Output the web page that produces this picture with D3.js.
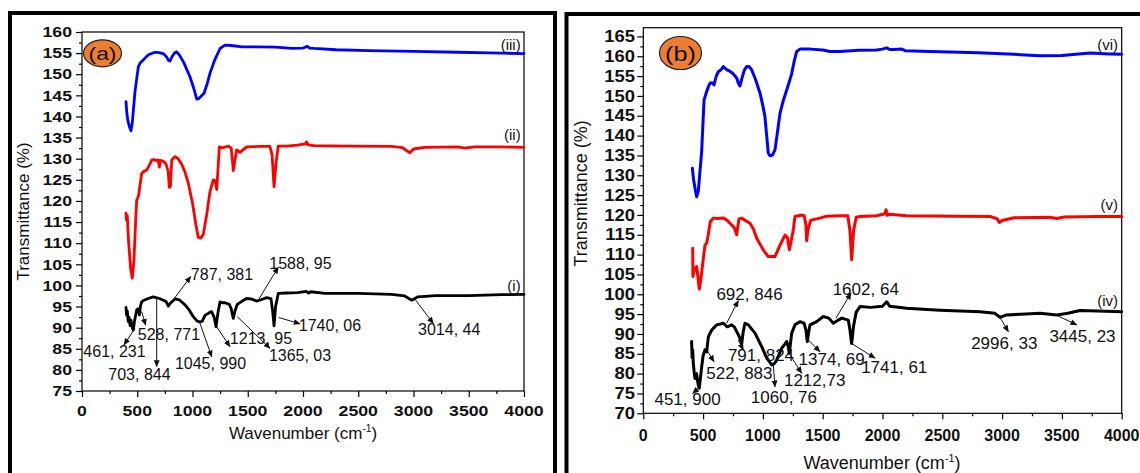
<!DOCTYPE html>
<html>
<head>
<meta charset="utf-8">
<script src="https://cdn.jsdelivr.net/npm/d3@7"></script>
<style>
  body { margin: 0; background: #fff; }
  svg { display: block; }
  text { font-family: Arial, "Liberation Sans", sans-serif; fill: #111; }
</style>
</head>
<body>
<svg id="chart" width="1140" height="473"></svg>
<script>
// ---------------- FTIR spectra: [wavenumber (cm-1), transmittance (%)] ----------------
// Panel (a)
const spectrumA3 = [[398,143.5],[405,141],[415,139],[430,137.5],[443,136.6],[455,138.5],[480,146],[510,151.8],[530,152.8],[555,153.4],[600,154.6],[660,155.2],[700,155.1],[740,154.8],[766,154.1],[782,153.3],[796,153.1],[815,154.2],[840,155.1],[857,155.3],[880,154.6],[920,152.8],[977,149.4],[1010,146.8],[1038,144.1],[1060,144.3],[1104,145.5],[1130,147.5],[1158,150.2],[1200,153.3],[1249,156.1],[1294,156.9],[1350,156.8],[1450,156.5],[1600,156.5],[1750,156.4],[1900,156.1],[2000,156.2],[2040,156.6],[2060,156.2],[2100,156.1],[2300,155.8],[2600,155.6],[3000,155.4],[3400,155.2],[3800,155.0],[4000,154.9]];
const spectrumA2 = [[398,117.1],[402,115.5],[410,116.5],[420,111],[440,104],[455,101.7],[470,106],[485,115],[495,120.2],[510,121],[540,126.5],[560,127],[585,127.3],[610,128.5],[631,129.7],[655,129.8],[676,129.5],[690,129.7],[700,128],[710,129.6],[736,129.4],[760,128.8],[780,127],[790,123.2],[800,123.4],[812,129.7],[842,130.5],[870,130],[902,128.7],[930,127],[962,124.2],[1000,119.5],[1030,114.5],[1052,111.4],[1075,111.2],[1098,112.1],[1130,117],[1158,122.2],[1188,125],[1205,124.8],[1219,122.7],[1232,128],[1243,132.8],[1270,132.6],[1325,133],[1350,132.5],[1362,129.5],[1369,127.2],[1380,129],[1400,132.1],[1430,131.5],[1490,132.8],[1600,132.9],[1700,132.9],[1720,131],[1738,123.4],[1756,129],[1776,133],[1850,133],[1950,133.2],[2020,133.5],[2033,134],[2045,133.3],[2100,133.1],[2400,133],[2800,132.9],[2900,132.6],[2968,131.4],[3000,132.3],[3100,132.7],[3400,132.8],[3466,132.5],[3550,132.8],[3800,132.8],[4000,132.7]];
const spectrumA1 = [[398,94.8],[403,93],[410,94],[418,91.5],[425,92.5],[435,90.5],[443,91.8],[455,90],[464,89.4],[475,91.5],[495,94.2],[510,94.5],[519,93],[530,95.2],[540,96.1],[560,96.5],[600,96.9],[645,97.3],[700,96.9],[736,96.5],[760,96.2],[781,95.1],[800,95.8],[842,96.8],[880,96.6],[932,95.4],[970,94.2],[1007,92.6],[1040,91.6],[1068,91.3],[1090,91.6],[1113,92.9],[1150,93.5],[1173,93.8],[1195,92.5],[1213,90.2],[1230,93.5],[1249,96.1],[1270,95.9],[1294,95.9],[1333,95.5],[1350,94.5],[1369,92.2],[1385,94],[1405,95.5],[1450,96.3],[1490,96.9],[1530,96.8],[1579,96.3],[1620,96.6],[1671,97.1],[1710,96.9],[1725,94],[1738,90.4],[1752,95],[1776,98.1],[1850,98.2],[1950,98.3],[2030,98.6],[2050,98.2],[2070,98.5],[2200,98.1],[2500,98.1],[2800,97.9],[2920,97.5],[2984,96.5],[3040,97.3],[3200,97.6],[3500,97.6],[3800,97.8],[4000,97.9]];
// Panel (b)
const spectrumB6 = [[410,131.8],[420,129],[435,126.3],[446,124.6],[460,126],[488,136],[508,149],[530,151.1],[545,152.4],[558,153.2],[575,153.3],[591,152.8],[610,155],[627,156.1],[650,156.6],[669,157.4],[697,156.6],[720,156.3],[747,155.7],[765,155.1],[781,154.5],[795,153.2],[808,152.5],[825,154.5],[845,156.5],[864,157.4],[885,157.4],[906,156.6],[940,154],[976,150.7],[1000,147.5],[1017,144.8],[1030,140.5],[1045,135.6],[1059,134.9],[1080,135.1],[1101,136.4],[1120,140.5],[1143,145.6],[1170,148.8],[1199,151.5],[1220,153.5],[1241,155.7],[1260,158.5],[1282,161.2],[1310,161.8],[1400,161.8],[1500,161.6],[1560,161.2],[1644,161.2],[1800,161.5],[1950,161.6],[2000,161.8],[2035,162.1],[2060,161.7],[2100,161.7],[2161,161.8],[2190,161.4],[2400,161.2],[2800,160.9],[3100,160.5],[3317,160.1],[3500,160.2],[3735,160.8],[3900,160.6],[4000,160.5]];
const spectrumB5 = [[413,111.6],[415,104.5],[425,106],[446,107],[458,104],[468,101.3],[480,103.5],[497,107.8],[516,112.4],[530,112.9],[540,114.5],[549,116.2],[560,118.3],[585,119.2],[620,119.1],[669,119.2],[700,118.7],[725,117.9],[760,116.8],[775,115.6],[781,115],[790,117],[800,119],[823,119.2],[860,118.5],[892,117.9],[920,116.5],[948,114.1],[1003,111.2],[1045,109.5],[1101,109.5],[1143,112.4],[1185,114.9],[1205,114.3],[1221,111.2],[1240,114],[1254,116.2],[1268,119.6],[1324,120],[1345,119.8],[1360,117.5],[1366,113.5],[1375,116],[1400,118.7],[1477,119.2],[1533,119.7],[1650,119.8],[1710,119.8],[1728,116],[1742,108.7],[1758,116],[1780,119.4],[1812,119.6],[1950,119.8],[2020,120.3],[2030,121.3],[2040,119.9],[2060,120.2],[2200,119.8],[2600,119.7],[2900,119.6],[2960,119],[2977,118.1],[3000,118.6],[3100,119.3],[3400,119.4],[3457,119.1],[3520,119.5],[3800,119.6],[4000,119.6]];
const spectrumB4 = [[404,88.1],[408,84],[413,86],[418,82.6],[425,80.5],[432,78.8],[445,80],[460,77],[468,76.3],[478,79],[488,81.7],[500,84.5],[516,86],[530,85.5],[544,89.3],[572,91],[614,92.3],[669,92.7],[702,91.8],[739,92.3],[760,91.8],[781,90.6],[800,89.5],[823,87.6],[835,90.5],[850,92.7],[878,92.3],[934,90.2],[990,86.8],[1032,83.9],[1074,82.2],[1095,82.5],[1115,83.4],[1157,86.4],[1185,87.5],[1199,88.1],[1210,87],[1221,85.1],[1232,88],[1241,90.2],[1268,92.3],[1310,93.1],[1344,92.7],[1360,91],[1371,88.1],[1383,90.5],[1394,92.3],[1450,93.1],[1505,94.4],[1550,94],[1589,92.7],[1630,93.5],[1659,94],[1714,93.5],[1728,91],[1742,87.6],[1758,92],[1780,95.5],[1812,96.9],[1900,96.7],[2000,97],[2035,98.1],[2060,97],[2202,96.5],[2481,96],[2815,95.6],[2940,95.2],[2982,94.2],[3038,94.8],[3317,95.2],[3457,94.8],[3550,95.2],[3651,95.9],[3800,95.8],[4000,95.6]];

// Series names shown at the right end of each trace
const namesA = ["(iii)", "(ii)", "(i)"];
const namesB = ["(vi)", "(v)", "(iv)"];

// Peak annotations: label, arrow start (on trace), arrow end, label centre — data units
const peaksA = [
  { label: "461, 231",  from: [480, 89.9],  to: [380, 85.9],  at: [294, 84.3] },
  { label: "528, 771",  from: [540, 93.8],  to: [576, 90.6],  at: [787, 88.5] },
  { label: "703, 844",  from: [676, 96.9],  to: [676, 80.8],  at: [520, 79.0] },
  { label: "787, 381",  from: [812, 96.1],  to: [984, 102.1], at: [1267, 102.6] },
  { label: "1045, 990", from: [1068, 91.0], to: [1174, 83.1], at: [1163, 81.6] },
  { label: "1213, 95",  from: [1219, 90.2], to: [1339, 85.5], at: [1620, 87.5] },
  { label: "1365, 03",  from: [1405, 92.6], to: [1701, 85.1], at: [1973, 83.5] },
  { label: "1588, 95",  from: [1595, 96.5], to: [1776, 104.3], at: [1977, 105.2] },
  { label: "1740, 06",  from: [1780, 92.4], to: [1973, 90.9], at: [2244, 90.6] },
  { label: "3014, 44",  from: [3014, 96.7], to: [3179, 91.0], at: [3323, 89.6] }
];
const peaksB = [
  { label: "692, 846",  from: [697, 92.7],  to: [794, 98.4],  at: [888, 100.1] },
  { label: "791, 824",  from: [794, 88.5],  to: [836, 86.0],  at: [984, 84.7] },
  { label: "522, 883",  from: [530, 86.0],  to: [591, 83.0],  at: [804, 80.1] },
  { label: "451, 900",  from: [474, 76.7],  to: [413, 75.0],  at: [370, 73.6] },
  { label: "1060, 76",  from: [1087, 82.2], to: [1101, 76.7], at: [1176, 74.0] },
  { label: "1212,73",   from: [1227, 84.7], to: [1324, 80.1], at: [1433, 78.4] },
  { label: "1374, 69",  from: [1380, 88.5], to: [1477, 85.5], at: [1575, 83.6] },
  { label: "1602, 64",  from: [1611, 94.0], to: [1737, 100.3], at: [1860, 101.3] },
  { label: "1741, 61",  from: [1742, 87.6], to: [1937, 83.9], at: [2098, 81.6] },
  { label: "2996, 33",  from: [2982, 94.2], to: [3052, 90.6], at: [3018, 87.6] },
  { label: "3445, 23",  from: [3470, 94.5], to: [3624, 92.3], at: [3672, 89.5] }
];

const xTicks = [0, 500, 1000, 1500, 2000, 2500, 3000, 3500, 4000];
const yTicksA = d3.range(75, 161, 5);
const yTicksB = d3.range(70, 166, 5);

// ---------------- layout ----------------
const svg = d3.select("#chart");
svg.append("rect").attr("width", 1140).attr("height", 473).attr("fill", "#fff");

const defs = svg.append("defs");
defs.append("marker")
  .attr("id", "arrowHead")
  .attr("viewBox", "0 0 10 10")
  .attr("refX", 9).attr("refY", 5)
  .attr("markerWidth", 7).attr("markerHeight", 7)
  .attr("markerUnits", "userSpaceOnUse")
  .attr("orient", "auto")
  .append("path").attr("d", "M0,0.8 L10,5 L0,9.2 Z").attr("fill", "#111");

const panels = [
  {
    frame: { x: 10, y: 13, w: 545, h: 480 },
    left: 82, right: 524, top: 32, bottom: 391,
    yDomain: [75, 160], yTicks: yTicksA,
    series: [spectrumA3, spectrumA2, spectrumA1], names: namesA,
    nameAt: [156.9, 135.6, 99.9],
    peaks: peaksA, peakFont: 16,
    tickFont: 15, yStretch: 1.18, xStretch: 1.18,
    yLabelX: 72, xLabelY: 416,
    badge: { cx: 102.5, cy: 53.3, rx: 19, ry: 13.5, text: "(a)", font: 19 },
    yTitle: { x: 29, y: 211.5 }, xTitle: { x: 303, y: 439 }, titleFont: 17,
    lineWidth: 2.8
  },
  {
    frame: { x: 566.5, y: 14, w: 620, h: 480 },
    left: 643.3, right: 1121.7, top: 27.7, bottom: 413.3,
    yDomain: [70, 167.2], yTicks: yTicksB,
    series: [spectrumB6, spectrumB5, spectrumB4], names: namesB,
    nameAt: [162.9, 122.5, 98.4],
    peaks: peaksB, peakFont: 17,
    tickFont: 16, yStretch: 1.15, xStretch: 1.0,
    yLabelX: 635, xLabelY: 441,
    badge: { cx: 680.5, cy: 53, rx: 21, ry: 16.5, text: "(b)", font: 21 },
    yTitle: { x: 587, y: 193.5 }, xTitle: { x: 882, y: 469 }, titleFont: 18,
    lineWidth: 3
  }
];
const colors = ["#0000ff", "#ff0000", "#000000"];

panels.forEach(p => {
  const g = svg.append("g");
  const x = d3.scaleLinear().domain([0, 4000]).range([p.left, p.right]);
  const y = d3.scaleLinear().domain(p.yDomain).range([p.bottom, p.top]);

  // outer thick frame
  g.append("rect")
    .attr("x", p.frame.x).attr("y", p.frame.y)
    .attr("width", p.frame.w).attr("height", p.frame.h)
    .attr("fill", "none").attr("stroke", "#000").attr("stroke-width", 4);

  // plot box
  g.append("rect")
    .attr("x", p.left).attr("y", p.top)
    .attr("width", p.right - p.left).attr("height", p.bottom - p.top)
    .attr("fill", "none").attr("stroke", "#000").attr("stroke-width", 1.2);

  // major and minor ticks
  const yMinor = p.yTicks.slice(0, -1).map(v => v + 2.5);
  const xMinor = xTicks.slice(0, -1).map(v => v + 250);
  const axisStyle = sel => {
    sel.select(".domain").remove();
    sel.selectAll("line").attr("stroke", "#000").attr("stroke-width", 1.2);
    sel.selectAll("text").remove();
  };
  g.append("g").attr("transform", `translate(${p.left},0)`)
    .call(d3.axisLeft(y).tickValues(p.yTicks).tickSize(6).tickSizeOuter(0)).call(axisStyle);
  g.append("g").attr("transform", `translate(${p.left},0)`)
    .call(d3.axisLeft(y).tickValues(yMinor).tickSize(3).tickSizeOuter(0)).call(axisStyle);
  g.append("g").attr("transform", `translate(0,${p.bottom})`)
    .call(d3.axisBottom(x).tickValues(xTicks).tickSize(6).tickSizeOuter(0)).call(axisStyle);
  g.append("g").attr("transform", `translate(0,${p.bottom})`)
    .call(d3.axisBottom(x).tickValues(xMinor).tickSize(3).tickSizeOuter(0)).call(axisStyle);

  // tick labels (bold, slightly widened)
  g.selectAll(".ylab").data(p.yTicks).join("text")
    .attr("transform", v => `translate(${p.yLabelX},${y(v)}) scale(${p.yStretch},1)`)
    .attr("text-anchor", "end").attr("dy", "0.35em")
    .attr("font-size", p.tickFont).attr("font-weight", "bold")
    .text(v => v);
  g.selectAll(".xlab").data(xTicks).join("text")
    .attr("transform", v => `translate(${x(v)},${p.xLabelY}) scale(${p.xStretch},1)`)
    .attr("text-anchor", "middle")
    .attr("font-size", p.tickFont).attr("font-weight", "bold")
    .text(v => v);

  // axis titles
  g.append("text")
    .attr("transform", `translate(${p.yTitle.x},${p.yTitle.y}) rotate(-90)`)
    .attr("text-anchor", "middle")
    .attr("font-size", p.titleFont)
    .text("Transmittance (%)");
  const xt = g.append("text")
    .attr("x", p.xTitle.x).attr("y", p.xTitle.y)
    .attr("text-anchor", "middle")
    .attr("font-size", p.titleFont);
  xt.append("tspan").text("Wavenumber (cm");
  xt.append("tspan").attr("dy", -7).attr("font-size", p.titleFont * 0.6).text("-1");
  xt.append("tspan").attr("dy", 7).text(")");

  // spectra
  const line = d3.line().x(d => x(d[0])).y(d => y(d[1]));
  p.series.forEach((s, i) => {
    g.append("path").datum(s)
      .attr("d", line)
      .attr("fill", "none")
      .attr("stroke", colors[i])
      .attr("stroke-width", p.lineWidth)
      .attr("stroke-linejoin", "round")
      .attr("stroke-linecap", "round");
    g.append("text")
      .attr("x", x(3970)).attr("y", y(p.nameAt[i]))
      .attr("dy", "0.35em")
      .attr("text-anchor", "end")
      .attr("font-size", 15)
      .attr("fill", "#333")
      .text(p.names[i]);
  });

  // peak annotations
  p.peaks.forEach(pk => {
    g.append("line")
      .attr("x1", x(pk.from[0])).attr("y1", y(pk.from[1]))
      .attr("x2", x(pk.to[0])).attr("y2", y(pk.to[1]))
      .attr("stroke", "#111").attr("stroke-width", 1)
      .attr("marker-end", "url(#arrowHead)");
    g.append("text")
      .attr("x", x(pk.at[0])).attr("y", y(pk.at[1]))
      .attr("dy", "0.35em")
      .attr("text-anchor", "middle")
      .attr("font-size", p.peakFont)
      .text(pk.label);
  });

  // sample badge
  g.append("ellipse")
    .attr("cx", p.badge.cx).attr("cy", p.badge.cy)
    .attr("rx", p.badge.rx).attr("ry", p.badge.ry)
    .attr("fill", "#ed7d31").attr("stroke", "#222").attr("stroke-width", 1.2);
  g.append("text")
    .attr("transform", `translate(${p.badge.cx},${p.badge.cy}) scale(1.2,1)`)
    .attr("dy", "0.36em")
    .attr("text-anchor", "middle")
    .attr("font-size", p.badge.font)
    .attr("fill", "#1a1a1a")
    .text(p.badge.text);
});
</script>
</body>
</html>
